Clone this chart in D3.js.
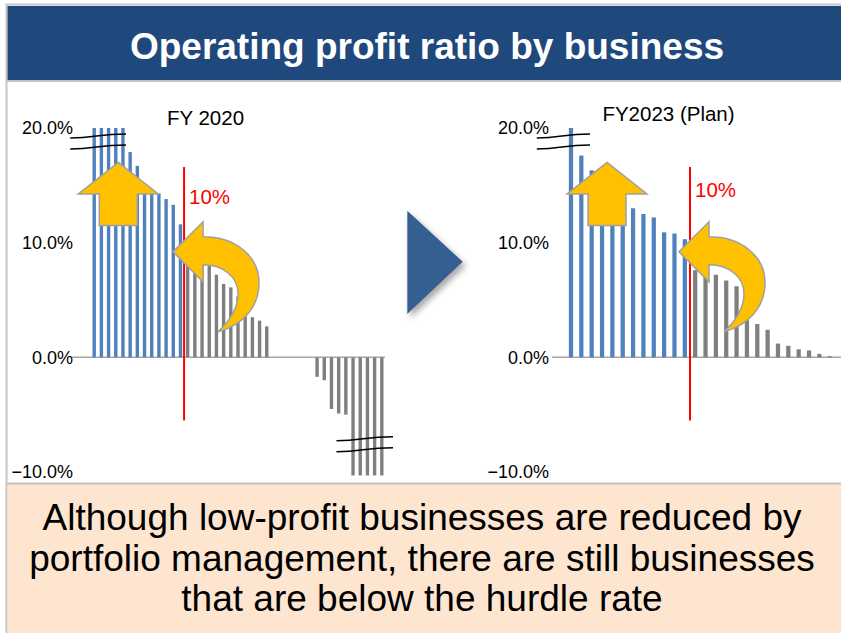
<!DOCTYPE html>
<html lang="en">
<head>
<meta charset="UTF-8">
<title>Operating profit ratio by business</title>
<script src="https://d3js.org/d3.v7.min.js"></script>
<style>
    body { margin: 0; background: #fff; font-family: Arial, "Liberation Sans", sans-serif; }
    svg { display: block; }
</style>
</head>
<body>
<svg id="chart" width="841" height="633"></svg>
<script>
// operating profit ratio (%) per business, sorted high to low
// FY 2020: businesses at or above the 10% hurdle, then the rest
const fy2020Above = [20, 20, 20, 20, 20, 17.9, 16.7, 15.0, 14.5, 14.3, 13.8, 13.3, 11.6];
const fy2020Below = [9.6, 9.0, 8.4, 8.0, 7.2, 6.4, 6.1, 5.3, 4.2, 3.5, 3.2, 2.7,
                     0, 0, 0, 0, 0, 0,
                     -1.7, -2.0, -4.5, -4.9, -5.0, -10.3, -10.3, -10.3, -10.3, -10.3];
// FY2023 plan
const fy2023Above = [20, 17.6, 16.3, 15.6, 14.8, 13.9, 13.0, 12.5, 12.2, 10.9, 10.8, 10.3];
const fy2023Below = [7.6, 7.4, 7.2, 6.7, 6.2, 4.6, 2.9, 2.4, 1.2, 1.0, 0.7, 0.6, 0.3, 0.1];

const yTicks = [20, 10, 0, -10];
const hurdle = 10;
const message = [
    "Although low-profit businesses are reduced by",
    "portfolio management, there are still businesses",
    "that are below the hurdle rate"
];

const svg = d3.select("#chart");
const defs = svg.append("defs");
defs.append("filter").attr("id", "shadow")
    .attr("x", "-30%").attr("y", "-30%").attr("width", "170%").attr("height", "170%")
    .append("feDropShadow")
    .attr("dx", 3).attr("dy", 4).attr("stdDeviation", 3)
    .attr("flood-color", "#000").attr("flood-opacity", 0.35);

// frame, header and message box
svg.append("rect").attr("x", 6.5).attr("y", 4.5).attr("width", 840).attr("height", 640)
    .attr("fill", "none").attr("stroke", "#c4c4c4").attr("stroke-width", 2);
svg.append("rect").attr("x", 7.5).attr("y", 6).attr("width", 834).attr("height", 74)
    .attr("fill", "#1f497d");
svg.append("line").attr("x1", 7).attr("x2", 841).attr("y1", 81).attr("y2", 81)
    .attr("stroke", "#c4c4c4").attr("stroke-width", 2);
svg.append("text").attr("x", 427).attr("y", 59).attr("text-anchor", "middle")
    .attr("fill", "#fff").style("font-size", "37px").style("font-weight", "bold")
    .text("Operating profit ratio by business");

svg.append("rect").attr("x", 7.5).attr("y", 484).attr("width", 834).attr("height", 150)
    .attr("fill", "#fde5d0");
svg.append("line").attr("x1", 7).attr("x2", 841).attr("y1", 483.5).attr("y2", 483.5)
    .attr("stroke", "#c4c4c4").attr("stroke-width", 2);
svg.append("g").selectAll("text").data(message).join("text")
    .attr("x", 422).attr("y", (d, i) => 530 + i * 40.5)
    .attr("text-anchor", "middle").attr("fill", "#000")
    .style("font-size", "37px")
    .text(d => d);

const y = d3.scaleLinear().domain([-10, 20]).range([472, 128]);

function upArrow(g, cx, tipY, baseY) {
    const headY = tipY + (baseY - tipY) * 0.5;
    const pts = [[cx, tipY], [cx + 40, headY], [cx + 19, headY], [cx + 19, baseY],
                 [cx - 19, baseY], [cx - 19, headY], [cx - 40, headY]];
    g.append("path").attr("d", "M" + pts.join("L") + "Z")
        .attr("fill", "#ffc000").attr("stroke", "#a0a0a0").attr("stroke-width", 1.5);
}

function curvedArrow(g, tx, ty) {
    const d = "M0,0 L30,-30 L30,-15 C62,-15 86,4 86,31 C86,55 70,73 45,80 " +
              "C58,68 65,55 65,42 C65,25 50,13 30,13 L30,30 Z";
    g.append("path").attr("d", d).attr("transform", `translate(${tx},${ty})`)
        .attr("fill", "#ffc000").attr("stroke", "#a0a0a0").attr("stroke-width", 1.5);
}

function breakMark(g, x0, x1, yTop) {
    [0, 11].forEach(off => {
        const yy = yTop + off, w = x1 - x0;
        g.append("path")
            .attr("d", `M${x0},${yy + 2} C${x0 + w * 0.45},${yy + 2} ${x0 + w * 0.5},${yy - 2} ${x1},${yy - 2}`)
            .attr("fill", "none").attr("stroke", "#000").attr("stroke-width", 1.5);
    });
}

function panel(opt) {
    const values = opt.above.concat(opt.below);
    const data = values.map((v, i) => ({ i, v, good: i < opt.above.length }));
    const x = d3.scaleBand().domain(data.map(d => d.i)).range(opt.range)
        .paddingInner(opt.pad).paddingOuter(opt.pad / 2);
    const g = svg.append("g");

    g.append("line").attr("x1", opt.axis[0]).attr("x2", opt.axis[1])
        .attr("y1", y(0)).attr("y2", y(0))
        .attr("stroke", "#a6a6a6").attr("stroke-width", 1.5);

    g.selectAll("rect.bar").data(data).join("rect").attr("class", "bar")
        .attr("x", d => x(d.i)).attr("width", x.bandwidth())
        .attr("y", d => y(Math.max(0, d.v)))
        .attr("height", d => Math.abs(y(d.v) - y(0)))
        .attr("fill", d => d.good ? "#4f81bd" : "#7f7f7f");

    g.selectAll("text.tick").data(yTicks).join("text").attr("class", "tick")
        .attr("x", opt.labelX).attr("y", d => y(d)).attr("dy", "0.36em")
        .attr("text-anchor", "end").attr("fill", "#000")
        .style("font-size", "18px")
        .text(d => d3.format(".1f")(d) + "%");

    g.append("text").attr("x", opt.titleX).attr("y", opt.titleY)
        .attr("text-anchor", "middle").attr("fill", "#000")
        .style("font-size", "20.5px").text(opt.title);

    // hurdle rate line sits between the last blue and first gray bar
    const step = x.step();
    const hx = x(opt.above.length) - step * opt.pad / 2;
    g.append("line").attr("x1", hx).attr("x2", hx).attr("y1", y(16.6)).attr("y2", y(-5.5))
        .attr("stroke", "#ff0000").attr("stroke-width", 2);
    g.append("text").attr("x", hx + 5).attr("y", opt.hurdleY)
        .attr("fill", "#ff0000").style("font-size", "20.5px")
        .text(hurdle + "%");

    const bx0 = x(0) - step * 3.1;
    breakMark(g, bx0, opt.breakX1, y(19.3));
    if (opt.negBreak) breakMark(g, x(opt.negBreak[0]) - 0.5, opt.negBreak[1], y(-7.1));

    upArrow(g, opt.upX, y(17), y(11.5));
    curvedArrow(g, hx - 11, y(9.2));
}

panel({
    above: fy2020Above, below: fy2020Below,
    range: [90.6, 385.4], pad: 0.53, axis: [71.5, 385], labelX: 73,
    title: "FY 2020", titleX: 205.5, titleY: 125, hurdleY: 204,
    breakX1: 126, negBreak: [34, 393], upX: 118.3
});

panel({
    above: fy2023Above, below: fy2023Below,
    range: [565.8, 834.9], pad: 0.59, axis: [552, 845], labelX: 549,
    title: "FY2023 (Plan)", titleX: 668.5, titleY: 120.5, hurdleY: 197,
    breakX1: 590, upX: 607
});

// transition triangle between the two panels
svg.append("path").attr("d", "M407.3,210.7 L462.7,261.7 L407.3,314 Z")
    .attr("fill", "#365f91").attr("filter", "url(#shadow)");
</script>
</body>
</html>
